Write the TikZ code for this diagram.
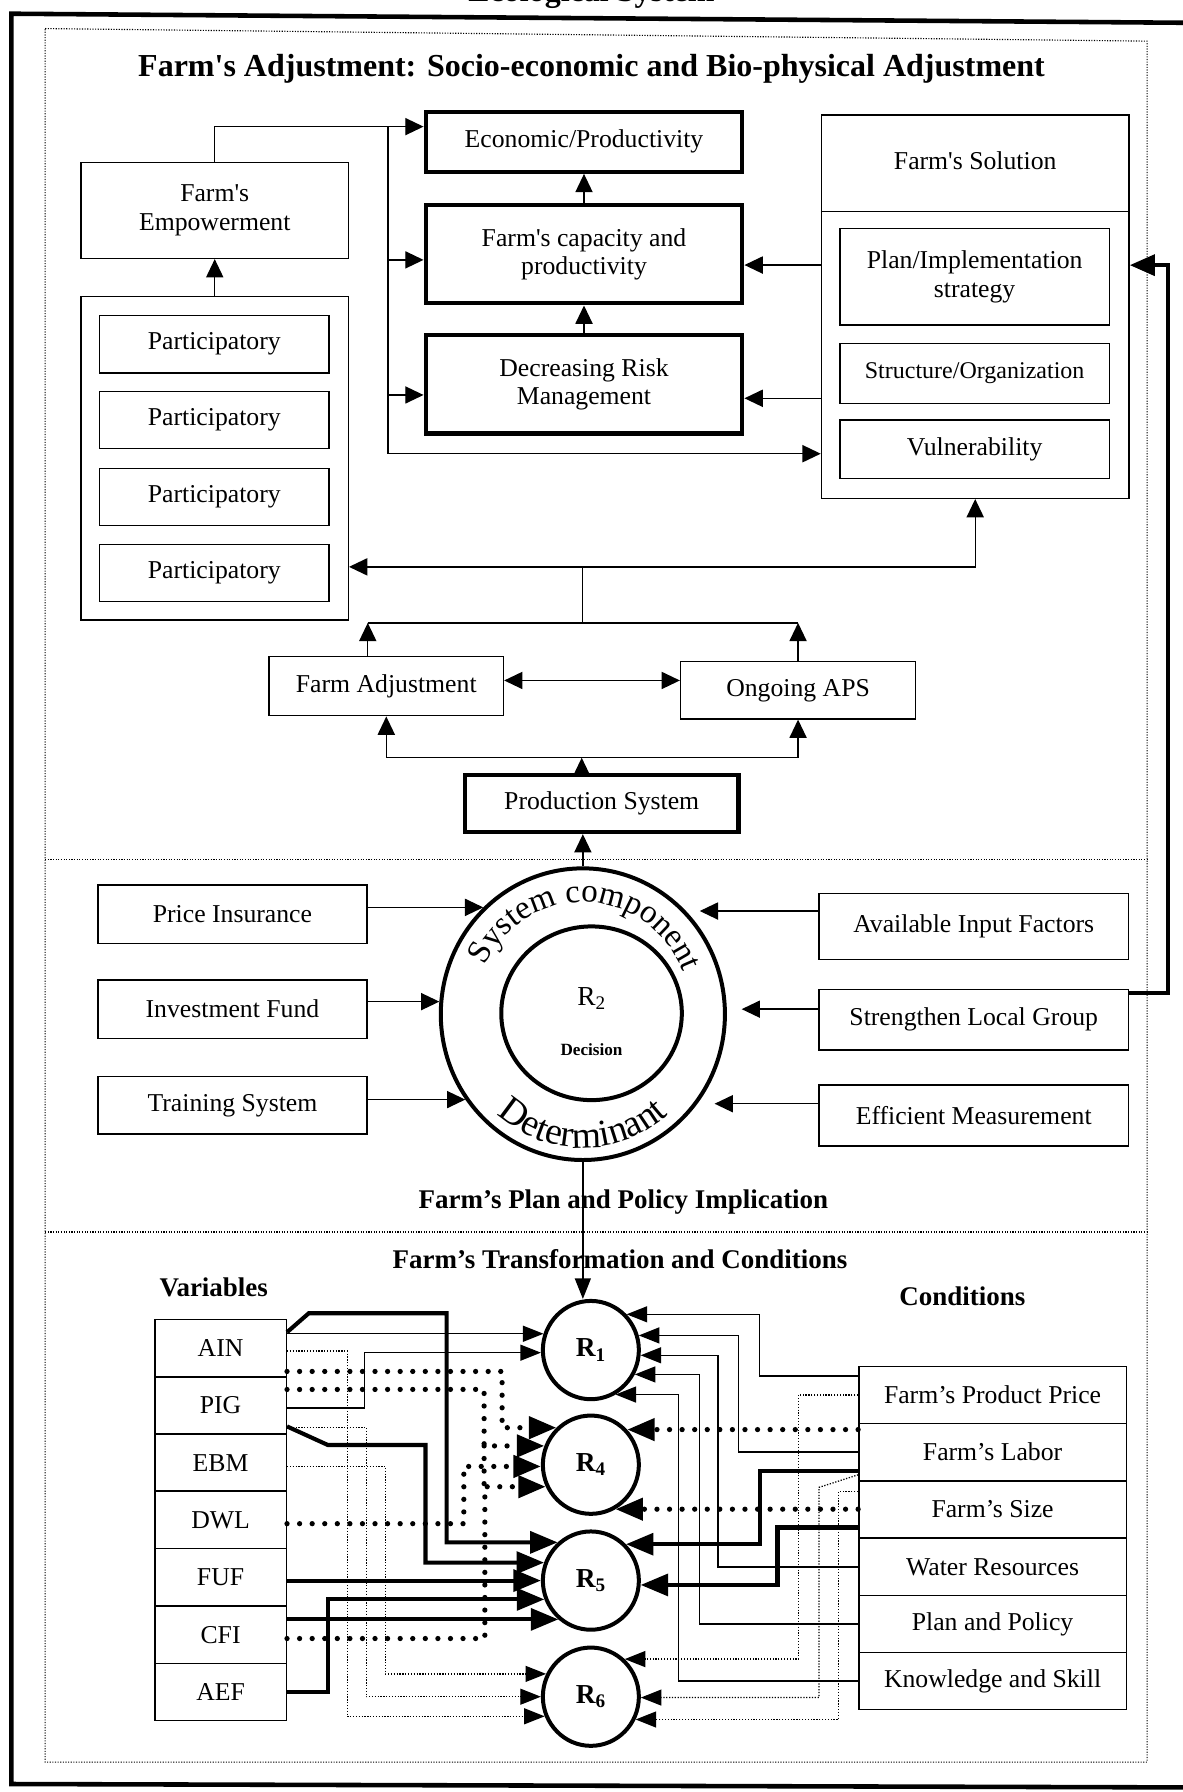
\documentclass[tikz,border=0pt]{standalone}
\usepackage{fontspec}
\setmainfont{Liberation Serif}
\usetikzlibrary{arrows.meta,shapes.geometric,decorations.text,calc}
\newcommand\fnorm{\fontsize{22.5}{25}\selectfont}
\newcommand\fsmaller{\fontsize{21}{24}\selectfont}
\newcommand\fhead{\fontsize{23.6}{26}\selectfont\bfseries}
\newcommand\ftitle{\fontsize{28}{30}\selectfont\bfseries}
\newcommand\fcurvetop{\fontsize{29}{29}\selectfont}
\newcommand\fcurvebot{\fontsize{33}{33}\selectfont}
\newcommand\fdec{\fontsize{15}{16}\selectfont\bfseries}
\newcommand\frr{\fontsize{24}{26}\selectfont\bfseries}
\newcommand\sq{\textquotesingle}
\begin{document}
\begin{tikzpicture}[x=1pt,y=-1pt,
  box/.style={draw,line width=1.3pt,inner sep=0pt,align=center,font=\fnorm},
  tbox/.style={box,line width=3.8pt},
  ring/.style={draw,ellipse,line width=3.5pt,inner sep=0pt},
  thin/.style={line width=1.2pt},
  thk/.style={line width=3.6pt},
  dotthk/.style={line width=4.6pt,line cap=round,dash pattern=on 0pt off 11pt},
  dotthin/.style={line width=1.1pt,dash pattern=on 1.1pt off 1.4pt},
  frame/.style={line width=1pt,dash pattern=on 1pt off 1.3pt},
  ar/.style={-{Triangle[length=16pt,width=15pt]}},
  dar/.style={{Triangle[length=16pt,width=15pt]}-{Triangle[length=16pt,width=15pt]}},
  ars/.style={-{Triangle[length=18pt,width=14pt]}},
  arb/.style={-{Triangle[length=24pt,width=19pt]}},
  lbl/.style={inner sep=0pt},
]
\useasboundingbox (0,0) rectangle (1034.3,1568);

% ---------- frames ----------
\node[lbl,font=\ftitle,anchor=base] (eco) at (517.5,1.5) {Ecological System};
\draw[line width=4pt] (1045,20) -- (10,12) -- (10,1561) -- (1045,1564);
\draw[frame] (39.5,25) -- (1003.7,36) -- (1003.7,1541.8) -- (39.5,1541.8) -- cycle;
\draw[frame] (39.5,752) -- (1003.7,752);
\draw[frame] (39.5,1078) -- (1003.7,1078);

% ---------- top section ----------
\node[lbl,font=\ftitle] (title) at (517.6,60) {Farm\sq s Adjustment: Socio-economic and Bio-physical Adjustment};

\node[tbox,minimum width=277pt,minimum height=52.5pt] (econ) at (511,124) {Economic/Productivity};
\node[tbox,minimum width=277pt,minimum height=86pt] (cap) at (511,222.4) {Farm\sq s capacity and\\productivity};
\node[tbox,minimum width=277pt,minimum height=86pt] (dec) at (511,336.2) {Decreasing Risk\\Management};

\node[box,minimum width=233.7pt,minimum height=83.7pt] (emp) at (187.9,184.2) {Farm\sq s\\Empowerment};
\node[box,minimum width=233.7pt,minimum height=283pt] (partc) at (187.9,401) {};
\node[box,minimum width=201pt,minimum height=50pt] (p1) at (187.5,301.2) {Participatory};
\node[box,minimum width=201pt,minimum height=50pt] (p2) at (187.5,367.5) {Participatory};
\node[box,minimum width=201pt,minimum height=50pt] (p3) at (187.5,435) {Participatory};
\node[box,minimum width=201pt,minimum height=50pt] (p4) at (187.5,501.3) {Participatory};

\node[box,minimum width=269pt,minimum height=335.4pt] (sol) at (853.3,268.3) {};
\draw[line width=1.3pt] (sol.west |- 0,185.2) -- (sol.east |- 0,185.2);
\node[lbl,font=\fnorm] (solt) at (853.3,141) {Farm\sq s Solution};
\node[box,minimum width=235.6pt,minimum height=84.6pt] (plan) at (852.8,242.1) {Plan/Implementation\\strategy};
\node[box,minimum width=235.6pt,minimum height=52.6pt,font=\fsmaller] (struct) at (852.8,326.7) {Structure/Organization};
\node[box,minimum width=235.6pt,minimum height=51pt] (vuln) at (852.8,393) {Vulnerability};

\node[box,minimum width=205pt,minimum height=51.7pt] (fa) at (338,600.4) {Farm Adjustment};
\node[box,minimum width=205.5pt,minimum height=50pt] (oa) at (698.3,604) {Ongoing APS};
\node[tbox,minimum width=239.3pt,minimum height=50pt] (ps) at (526.5,703) {Production System};

% top connectors
\coordinate (jtop) at (339.6,110.8);
\coordinate (jbot) at (339.6,397);
\draw[thin,ar] (emp.north) |- ([yshift=13.2pt]econ.west);
\draw[thin] (jtop) -- (jbot);
\draw[thin,ar] (jbot) -- (jbot -| sol.west);
\draw[thin,ar] ([yshift=-5pt]cap.west -| jtop) -- ([yshift=-5pt]cap.west);
\draw[thin,ar] ([yshift=-9.4pt]dec.west -| jtop) -- ([yshift=-9.4pt]dec.west);
\draw[thin,ar] ([yshift=-9.5pt]cap.east -| sol.west) -- ([yshift=-9.5pt]cap.east);
\draw[thin,ar] ([yshift=-12.3pt]dec.east -| sol.west) -- ([yshift=-12.3pt]dec.east);
\draw[thin,ar] (cap.north) -- (econ.south);
\draw[thin,ar] (dec.north) -- (cap.south);
\draw[thin,ar] (partc.north) -- (emp.south);

\coordinate (jm) at (509.7,496);
\coordinate (jl) at (509.7,545);
\coordinate (fal) at (321.8,545);
\draw[thin] (jl) -- (jm);
\draw[thin,ar] (jm) -- (jm -| partc.east);
\draw[thin,ar] (jm) -| (sol.south);
\draw[thin] (fal) -- (oa.north |- jl);
\draw[thin,ar] (fal |- fa.north) -- (fal);
\draw[thin,ar] (oa.north) -- (oa.north |- jl);
\draw[thin,dar] ([yshift=5pt]fa.east) -- ([yshift=5pt]fa.east -| oa.west);

\coordinate (jpc) at (509,663);
\draw[thin] (fa.south |- jpc) -- (oa.south |- jpc);
\draw[thin,ar] (fa.south |- jpc) -- (fa.south);
\draw[thin,ar] (oa.south |- jpc) -- (oa.south);
\draw[thin,ar] (jpc |- ps.north) -- (jpc);

% ---------- middle section ----------
\node[box,minimum width=235.4pt,minimum height=51pt] (pi) at (203.4,799.9) {Price Insurance};
\node[box,minimum width=235.4pt,minimum height=51pt] (invf) at (203.4,883) {Investment Fund};
\node[box,minimum width=235.4pt,minimum height=50pt] (ts) at (203.4,967.1) {Training System};
\node[box,minimum width=270.4pt,minimum height=57.8pt] (ai) at (852,810.5) {Available Input Factors};
\node[box,minimum width=270.4pt,minimum height=53pt] (sl) at (852,892.2) {Strengthen Local Group};
\node[box,minimum width=270.4pt,minimum height=53.4pt] (em) at (852,976) {Efficient Measurement};

\node[ring,minimum width=248.6pt,minimum height=255.2pt] (big) at (510,887.4) {};
\node[ring,minimum width=158pt,minimum height=152pt] (inner) at (517.6,886.6) {};
\node[lbl,font=\fontsize{24}{26}\selectfont] (r2) at (517.6,873.5) {R\textsubscript{2}};
\node[lbl,font=\fdec] (decis) at (517.6,918.7) {Decision};

\begin{scope}[shift={(big.center)},x=1pt,y=1pt]
\path[decorate,decoration={text along path,text={|\fcurvetop|System component},text align=center}]
  (160:95 and 98) arc[start angle=160,end angle=16,x radius=95,y radius=98];
\path[decorate,decoration={text along path,text={|\fcurvebot|Determinant},text align=center}]
  (-140:113 and 117) arc[start angle=-140,end angle=-40,x radius=113,y radius=117];
\end{scope}

\draw[thin,ar] (big.133 -| pi.east) -- (big.133);
\draw[thin,ar] (big.175 -| invf.east) -- (big.175);
\draw[thin,ar] (big.216 -| ts.east) -- (big.216);
\draw[thin,ar,shorten >=12pt] (big.45 -| ai.west) -- (big.45);
\draw[thin,ar,shorten >=13pt] (big.2 -| sl.west) -- (big.2);
\draw[thin,ar,shorten >=15pt] (big.-38 -| em.west) -- (big.-38);

\draw[thin,ar] (big.north) -- (big.north |- ps.south);

\coordinate (fb) at (1022,232);
\draw[line width=4pt,-{Triangle[length=22pt,width=18pt]}] ([yshift=23.2pt]sl.east) -| (fb) -- (fb -| sol.east);

\node[lbl,font=\fhead] (plantxt) at (545.5,1051.4) {Farm’s Plan and Policy Implication};

% ---------- bottom section ----------
\node[lbl,font=\fhead] (transtxt) at (542.5,1101.3) {Farm’s Transformation and Conditions};
\node[lbl,font=\fhead] (vartxt) at (187,1126.4) {Variables};
\node[lbl,font=\fhead] (condtxt) at (842,1134.2) {Conditions};

\node[box,minimum width=115pt,minimum height=50pt] (ain) at (193,1179.7) {AIN};
\node[box,minimum width=115pt,minimum height=50pt] (pig) at (193,1229.6) {PIG};
\node[box,minimum width=115pt,minimum height=50pt] (ebm) at (193,1279.8) {EBM};
\node[box,minimum width=115pt,minimum height=50pt] (dwl) at (193,1329.9) {DWL};
\node[box,minimum width=115pt,minimum height=50pt] (fuf) at (193,1380) {FUF};
\node[box,minimum width=115pt,minimum height=50pt] (cfi) at (193,1430.5) {CFI};
\node[box,minimum width=115pt,minimum height=50pt] (aef) at (193,1480.4) {AEF};

\node[box,minimum width=234pt,minimum height=50pt] (price) at (868.5,1220.5) {Farm’s Product Price};
\node[box,minimum width=234pt,minimum height=50pt] (labor) at (868.5,1270.6) {Farm’s Labor};
\node[box,minimum width=234pt,minimum height=50pt] (size) at (868.5,1320.8) {Farm’s Size};
\node[box,minimum width=234pt,minimum height=50pt] (water) at (868.5,1371) {Water Resources};
\node[box,minimum width=234pt,minimum height=50pt] (planp) at (868.5,1421.1) {Plan and Policy};
\node[box,minimum width=234pt,minimum height=50pt] (know) at (868.5,1470.8) {Knowledge and Skill};

\node[ring,minimum width=84pt,minimum height=86pt,font=\frr] (R1) at (517,1181.3) {R\textsubscript{1}};
\node[ring,minimum width=84pt,minimum height=86pt,font=\frr] (R4) at (517,1281.6) {R\textsubscript{4}};
\node[ring,minimum width=84pt,minimum height=86pt,font=\frr] (R5) at (517,1383) {R\textsubscript{5}};
\node[ring,minimum width=84pt,minimum height=86pt,font=\frr] (R6) at (517,1484.6) {R\textsubscript{6}};

\draw[thin,ars] (big.south) -- (big.south |- R1.north);

% left: thin solid to R1
\draw[thin,ars] (R1.161 -| ain.east) -- (R1.161);
\draw[thin,ars] ([yshift=-2.5pt]pig.east) -- ++(67.6,0) |- (R1.183);
% left: thick solid to R5
\draw[thk,arb] ([yshift=14pt]ain.east) -- ++(19,-16.6) -- ++(120.6,0) |- (R5.131);
\draw[thk,arb] ([yshift=-18.5pt]pig.east) -- ++(35.8,16.3) -- ++(85.4,0) |- (R5.159);
\draw[thk,arb] (R5.180 -| fuf.east) -- (R5.180);
\draw[thk,arb] (aef.east) -- ++(35.8,0) |- (R5.202);
\draw[thk,arb] (R5.230 -| cfi.east) -- (R5.230);
% left: thick dotted to R4
\coordinate (colx) at (423.6,1215.7);
\draw[dotthk,arb] ([yshift=-20.3pt]ain.east) -- ++(188.2,0) |- (R4.133);
\draw[dotthk,arb] ([yshift=13.8pt]pig.east) -- (colx) |- (R4.158);
\draw[dotthk,arb] ([yshift=-3.2pt]cfi.east) -- ++(173.1,0) |- (R4.206);
\draw[dotthk] (R4.158 -| colx) -- (R4.206 -| colx);
\draw[dotthk,arb] ([yshift=-3.3pt]dwl.east) -- ++(154.7,0) |- (R4.182);
% left: thin dotted to R6
\draw[dotthin,ars] ([yshift=-2.3pt]ain.east) -- ++(52.6,0) |- (R6.203);
\draw[dotthin,ars] ([yshift=-19.2pt]pig.east) -- ++(69.3,0) |- (R6.180);
\draw[dotthin,ars] ([yshift=-3.2pt]ebm.east) -- ++(86.1,0) |- (R6.153);

% right: thin solid to R1
\draw[thin,ars] ([yshift=16.5pt]price.west) -- ++(-86.5,0) |- (R1.45);
\draw[thin,ars] (labor.west) -- ++(-104.7,0) |- (R1.17);
\draw[thin,ars] (water.west) -- ++(-122.6,0) |- (R1.-6);
\draw[thin,ars] (planp.west) -- ++(-139,0) |- (R1.-29);
\draw[thin,ars] (know.west) -- ++(-157.2,0) |- (R1.-61);
% right: thick solid to R5
\draw[thk,arb] ([yshift=-16.3pt]labor.west) -- ++(-85.7,0) |- (R5.46);
\draw[thk,arb] ([yshift=-15.7pt]size.west) -- ++(-70.5,0) |- (R5.-5);
% right: thick dotted to R4
\draw[dotthk,arb] (R4.44 -| labor.west) -- (R4.44);
\draw[dotthk,arb] (R4.-61 -| size.west) -- (R4.-61);
% right: thin dotted to R6
\draw[dotthin,ars] (price.west) -- ++(-52.2,0) |- (R6.48);
\draw[dotthin,ars] ([yshift=4.7pt]size.north west) -- ++(-34.3,11) |- (R6.-1);
\draw[dotthin,ars] ([yshift=15.7pt]size.west) -- ++(-17.2,0) |- (R6.-27);
\end{tikzpicture}
\end{document}
